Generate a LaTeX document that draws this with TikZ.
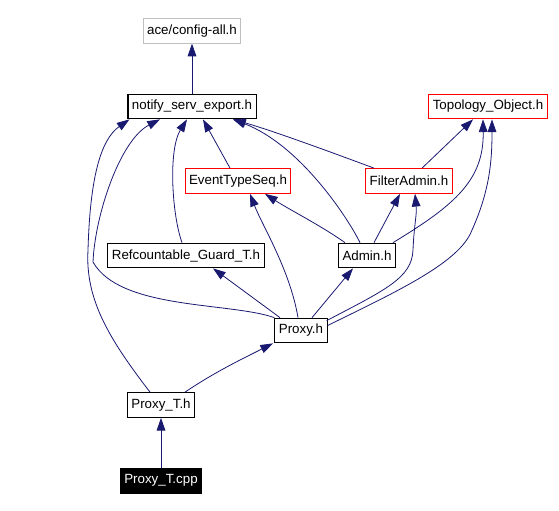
\documentclass[tikz,border=0pt]{standalone}
\usepackage{fontspec}
\setmainfont{Liberation Sans}
\usetikzlibrary{calc}
\usetikzlibrary{positioning}
\usetikzlibrary{arrows.meta}
\definecolor{midnight}{HTML}{191970}

\begin{document}
\begin{tikzpicture}[x=0.75pt, y=-0.75pt, node distance=37.5pt,
	font=\fontsize{10}{12}\selectfont,
	file/.style={draw=black, line width=0.8pt, rectangle, inner xsep=3pt, inner ysep=0pt, minimum height=18.5pt, fill=white},
	redfile/.style={file, draw=red},
	grayfile/.style={file, draw=black!25},
	mainfile/.style={file, fill=black, text=white},
	dep/.style={draw=midnight, line width=0.6pt, -{Triangle[length=9.5pt,width=6.5pt]}},
	every edge/.style={dep}]
	\useasboundingbox (0,0) rectangle (559,510);
	
	% Nodes
	\node[file] (notify) at (192,106.5) {notify\_serv\_export.h};
	\node[grayfile, above=of notify] (ace) {ace/config-all.h};
	\node[redfile] (topo) at (488,106.5) {Topology\_Object.h};
	\node[redfile] (etseq) at (238,181) {EventTypeSeq.h};
	\node[redfile] (filter) at (409,181) {FilterAdmin.h};
	\node[file] (refc) at (186,255.5) {Refcountable\_Guard\_T.h};
	\node[file] (admin) at (367,255.5) {Admin.h};
	\node[file] (proxy) at (301,330.5) {Proxy.h};
	\node[file] (proxyt) at (161,405) {Proxy\_T.h};
	\node[mainfile, below=of proxyt] (cpp) {Proxy\_T.cpp};
	
	% Arrows
	\path (notify) edge (ace);
	\path ($(etseq.north)+(-8,0)$) edge ($(notify.south)+(11,0)$);
	\draw[dep] ($(filter.north)+(-35,0)$) .. controls (320,148) and (270,130) .. ($(notify.south)+(41,0)$);
	\draw[dep] ($(admin.north)+(-7,0)$) .. controls (348,218) and (300,145) .. ($(notify.south)+(41,0)$);
	\draw[dep] ($(refc.north)+(-4,0)$) .. controls (172,215) and (168,150) .. ($(notify.south)+(-5,0)$);
	\draw[dep] ($(admin.north)+(-22,0)$) .. controls (320,225) and (290,210) .. ($(etseq.south)+(27,0)$);
	\path ($(admin.north)+(7,0)$) edge ($(filter.south)+(-9,0)$);
	\draw[dep] ($(admin.north)+(26,0)$) .. controls (455,205) and (484,180) .. ($(topo.south)+(-5,0)$);
	\path ($(filter.north)+(13,0)$) edge ($(topo.south)+(-15,0)$);
	\path ($(proxy.north)+(-21,0)$) edge ($(refc.south)+(27,0)$);
	\draw[dep] ($(proxy.north)+(-3,0)$) .. controls (290,270) and (262,225) .. ($(etseq.south)+(12,0)$);
	\path ($(proxy.north)+(11,0)$) edge ($(admin.south)+(-14,0)$);
	\draw[dep] ($(proxy.north east)+(-1,3)$) .. controls (385,290) and (412,278) .. (413,250) .. controls (414,225) and (417,215) .. ($(filter.south)+(6,0)$);
	\draw[dep] ($(proxy.east)+(0,-5)$) .. controls (400,290) and (460,262) .. (472,230) .. controls (490,190) and (492,160) .. ($(topo.south)+(4,0)$);
	\draw[dep] (proxy.north west) .. controls (230,302) and (120,310) .. (93,262) .. controls (95,215) and (120,140) .. ($(notify.south)+(-32,0)$);
	\draw[dep] ($(proxyt.north)+(-11,0)$) .. controls (110,340) and (85,300) .. (88,250) .. controls (90,180) and (100,140) .. ($(notify.south west)+(2,0)$);
	\draw[dep] ($(proxyt.north)+(24,0)$) .. controls (215,372) and (240,360) .. ($(proxy.south)+(-28,0)$);
	\path (cpp) edge (proxyt);
\end{tikzpicture}
\end{document}
